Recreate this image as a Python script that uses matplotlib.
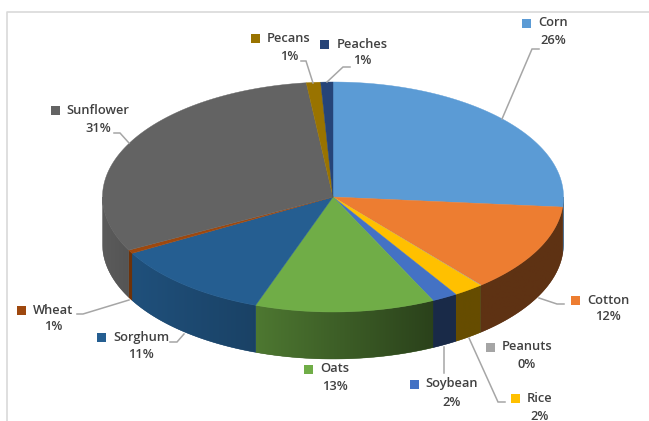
import numpy as np
import matplotlib
matplotlib.use("Agg")
import matplotlib.pyplot as plt
from matplotlib.patches import Polygon, Rectangle

categories = ["Corn", "Cotton", "Peanuts", "Rice", "Soybean", "Oats", "Sorghum", "Wheat", "Sunflower", "Pecans", "Peaches"]
values = [26.4, 12.5, 0.05, 2.1, 1.8, 12.6, 11.4, 0.5, 30.8, 1.0, 0.85]
percent_labels = ["26%", "12%", "0%", "2%", "2%", "13%", "11%", "1%", "31%", "1%", "1%"]
colors = ["#5B9BD5", "#ED7D31", "#A5A5A5", "#FFC000", "#4472C4", "#70AD47", "#255E91", "#9E480E", "#636363", "#997300", "#264478"]
wall_shades = [(0.6, 0.6), (0.40, 0.40), (0.4, 0.4), (0.40, 0.40), (0.37, 0.37), (0.38, 0.69), (0.70, 0.85), (0.7, 0.7), (0.85, 0.92), (0.8, 0.8), (0.8, 0.8)]

CX, CY, RX, RY, DEPTH = 333, 197, 230.5, 115, 47

label_pos = {
    "Corn": (553, 23, 553, 41), "Cotton": (608, 300, 608, 317), "Peanuts": (527, 347, 527, 364),
    "Rice": (540, 398, 540, 416), "Soybean": (452, 384, 452, 402), "Oats": (335, 369, 335, 387),
    "Sorghum": (141, 337, 141, 355), "Wheat": (53, 310, 53, 327), "Sunflower": (98, 110, 98, 128),
    "Pecans": (289, 38, 289, 57), "Peaches": (362, 44, 362, 61),
}
leaders = {
    "Corn": [(502, 119), (532, 49), (539, 49)],
    "Cotton": [(539, 298), (557, 304), (564, 304)],
    "Rice": [(469, 338), (498, 402), (505, 402)],
    "Soybean": [(444, 347), (444, 373)],
    "Sorghum": [(184, 334), (177, 342), (170, 342)],
    "Wheat": [(129, 300), (83, 314), (77, 314)],
    "Sunflower": [(129, 143), (120, 133), (114, 133)],
    "Pecans": [(313, 83), (306, 61), (301, 61)],
    "Peaches": [(327, 82), (343, 67), (350, 67)],
}

plt.rcParams["font.family"] = ["Open Sans", "DejaVu Sans"]
fig = plt.figure(figsize=(6.49, 4.21), dpi=100, facecolor="white")
ax = fig.add_axes([0, 0, 1, 1])
ax.set_xlim(0, 649)
ax.set_ylim(421, 0)
ax.axis("off")

ax.plot([6.5, 6.5, 649], [421, 12, 12], color="#D9D9D9", lw=1.2, zorder=0)

def px(theta):
    return CX + RX * np.sin(theta), CY - RY * np.cos(theta)

edges = np.cumsum([0] + values) / sum(values) * 2 * np.pi

# walls: one gradient image per slice, clipped to the wall outline
for i, name in enumerate(categories):
    a0, a1 = max(edges[i], np.pi / 2), min(edges[i + 1], 3 * np.pi / 2)
    if a1 <= a0:
        continue
    t = np.linspace(a0, a1, max(4, int((a1 - a0) * 150)))
    xs, ys = px(t)
    outline = list(zip(xs, ys)) + list(zip(xs[::-1], ys[::-1] + DEPTH))
    base = np.array(matplotlib.colors.to_rgb(colors[i]))
    f0, f1 = wall_shades[i]
    under = Polygon(outline, closed=True, fc=base * (f0 + f1) / 2, ec=base * (f0 + f1) / 2, lw=0.3, zorder=1)
    ax.add_patch(under)
    ramp = np.linspace(f1, f0, 64)[None, :, None] * base[None, None, :]
    im = ax.imshow(ramp, extent=(xs.min(), xs.max(), ys.max() + DEPTH, ys.min()), aspect="auto",
                   interpolation="bilinear", zorder=1.1)
    im.set_clip_path(Polygon(outline, closed=True, transform=ax.transData))
ax.set_xlim(0, 649)
ax.set_ylim(421, 0)

# top faces
for i, name in enumerate(categories):
    t = np.linspace(edges[i], edges[i + 1], max(3, int((edges[i + 1] - edges[i]) * 120)))
    xs, ys = px(t)
    pts = [(CX, CY)] + list(zip(xs, ys))
    ax.add_patch(Polygon(pts, closed=True, fc=colors[i], ec=colors[i], lw=0.3, zorder=2))

# leader lines
for name, pts in leaders.items():
    xs, ys = zip(*pts)
    ax.plot(xs, ys, color="#A6A6A6", lw=1.1, zorder=3, solid_joinstyle="miter")

# labels with colour keys
text_kw = dict(color="#404040", fontsize=9.3, fontweight="semibold", ha="center", va="center", zorder=5)
for i, name in enumerate(categories):
    xn, yn, xp, yp = label_pos[name]
    txt = ax.text(xn, yn, name, **text_kw)
    ax.text(xp, yp, percent_labels[i], **text_kw)
    fig.canvas.draw()
    bb = txt.get_window_extent().transformed(ax.transData.inverted())
    ax.add_patch(Rectangle((bb.x0 - 16, yn - 4.5), 9, 9, fc=colors[i], ec="none", zorder=5))

fig.savefig("out.png", dpi=100)
